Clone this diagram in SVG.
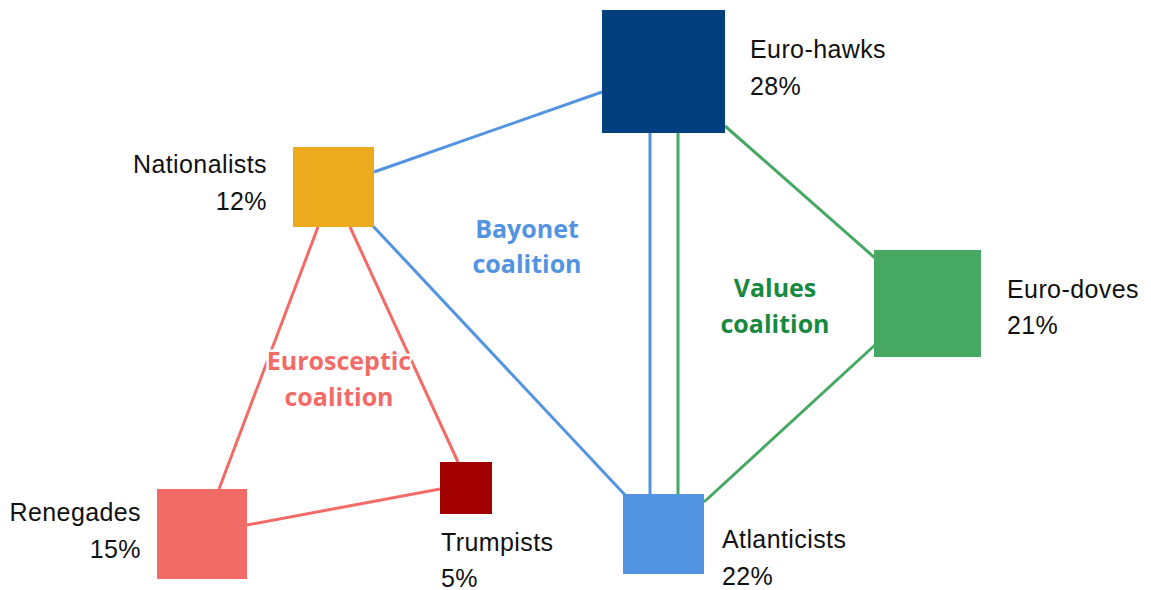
<svg xmlns="http://www.w3.org/2000/svg" width="1151" height="590" viewBox="0 0 1151 590">
<style>
.lbl{font-family:"Liberation Sans",Arial,sans-serif;font-size:25px;letter-spacing:0.4px;fill:#111}
.co{font-family:"Open Sans","Liberation Sans",sans-serif;font-size:25px;font-weight:bold;text-anchor:middle;stroke:#fff;stroke-width:5px;paint-order:stroke;stroke-linejoin:round}
.e{fill:none;stroke-width:3}
.b{stroke:#5294E2}.g{stroke:#46A862}.r{stroke:#F26B67}
</style>
<rect width="1151" height="590" fill="#fff"/>
<g id="connectors">
<line class="e b" x1="374" y1="172" x2="602" y2="92"/>
<line class="e b" x1="372" y1="225" x2="626" y2="496"/>
<line class="e b" x1="650" y1="133" x2="650" y2="494"/>
<line class="e g" x1="678" y1="133" x2="678" y2="494"/>
<line class="e g" x1="725" y1="126" x2="875" y2="258"/>
<line class="e g" x1="875" y1="345" x2="704" y2="502"/>
<line class="e r" x1="318" y1="227" x2="219" y2="489"/>
<line class="e r" x1="350" y1="227" x2="458" y2="462"/>
<line class="e r" x1="247" y1="525" x2="440" y2="489"/>
</g>
<g id="coalition-labels">
<text class="co" x="527" y="238" fill="#5294E2">Bayonet</text>
<text class="co" x="527" y="273" fill="#5294E2">coalition</text>
<text class="co" x="775" y="297" fill="#178A40">Values</text>
<text class="co" x="775" y="333" fill="#178A40">coalition</text>
<text class="co" x="339" y="370" fill="#F26B67">Eurosceptic</text>
<text class="co" x="339" y="406" fill="#F26B67">coalition</text>
</g>
<g id="euro-hawks">
<rect x="602" y="10" width="123" height="123" fill="#023F7F"/>
<text class="lbl" x="750" y="58">Euro-hawks</text>
<text class="lbl" x="750" y="95">28%</text>
</g>
<g id="nationalists">
<rect x="293" y="147" width="81" height="80" fill="#ECAB1E"/>
<text class="lbl" x="267" y="173" text-anchor="end">Nationalists</text>
<text class="lbl" x="267" y="210" text-anchor="end">12%</text>
</g>
<g id="euro-doves">
<rect x="874" y="250" width="107" height="107" fill="#46A862"/>
<text class="lbl" x="1007" y="298">Euro-doves</text>
<text class="lbl" x="1007" y="334">21%</text>
</g>
<g id="renegades">
<rect x="157" y="489" width="90" height="90" fill="#F26B67"/>
<text class="lbl" x="141" y="521" text-anchor="end">Renegades</text>
<text class="lbl" x="141" y="558" text-anchor="end">15%</text>
</g>
<g id="trumpists">
<rect x="440" y="462" width="52" height="52" fill="#A30000"/>
<text class="lbl" x="441" y="551">Trumpists</text>
<text class="lbl" x="441" y="587">5%</text>
</g>
<g id="atlanticists">
<rect x="623" y="494" width="81" height="80" fill="#5294E2"/>
<text class="lbl" x="722" y="548">Atlanticists</text>
<text class="lbl" x="722" y="585">22%</text>
</g>
</svg>
